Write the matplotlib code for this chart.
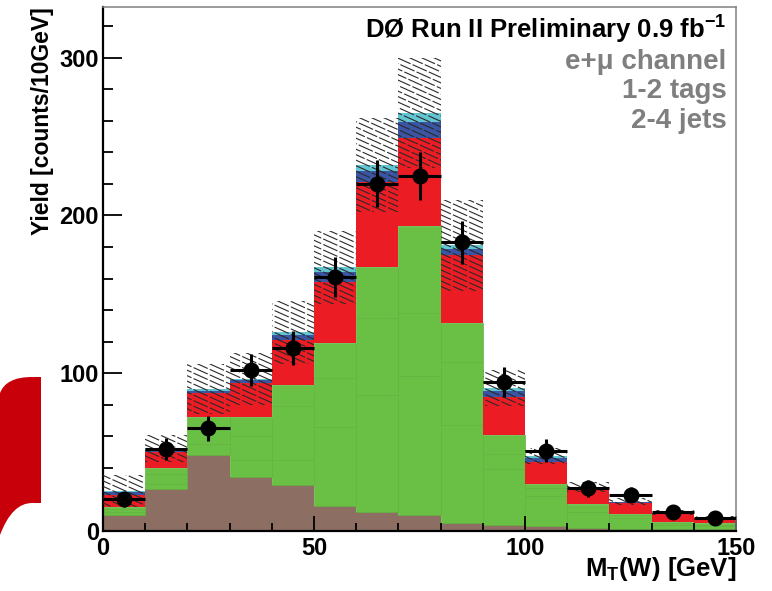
import numpy as np
import matplotlib
matplotlib.use('Agg')
import matplotlib.pyplot as plt
from matplotlib.path import Path
from matplotlib.patches import PathPatch, Rectangle
from matplotlib.collections import LineCollection
from matplotlib.transforms import IdentityTransform
from matplotlib.ticker import MultipleLocator

plt.rcParams['font.family'] = ['Liberation Sans', 'DejaVu Sans']
plt.rcParams['font.weight'] = 'bold'
plt.rcParams['mathtext.fontset'] = 'custom'
plt.rcParams['mathtext.rm'] = 'Liberation Sans:bold'
plt.rcParams['mathtext.bf'] = 'Liberation Sans:bold'
plt.rcParams['mathtext.it'] = 'Liberation Sans:bold'

# bin edges of M_T(W), 10 GeV bins
edges = np.arange(0, 151, 10)
centers = edges[:-1] + 5

# stacked backgrounds (yield per bin, bottom to top)
multijet = [10, 26.6, 48, 34, 29, 16, 12, 10, 5, 4, 3, 2, 1.5, 1, 1]
w_light = [2, 3.4, 7, 11, 16, 50, 74, 88, 62, 35, 19, 10, 6.5, 3, 2]
w_cc = [2, 6, 10, 15, 34, 31, 49, 40, 40, 10, 5, 3, 2, 1, 1]
w_bb = [1, 4, 7.5, 12, 13.5, 22, 32, 55, 25, 12, 3, 2, 1, 0.7, 1]
ttbar = [8, 10, 15, 22, 28.5, 39, 54, 56, 43, 24, 14, 9.6, 6.8, 5.3, 3]
other1 = [1.5, 1.5, 1.5, 1.5, 3, 6, 7, 10, 4, 3.5, 2, 0.9, 0.5, 0.3, 0.3]
other2 = [1, 1, 1, 1, 2, 3, 4, 6, 2, 2, 1.5, 0.5, 0.4, 0.3, 0.2]

# systematic uncertainty on total prediction
syst = [10, 8.5, 16, 16.5, 20, 23, 30, 35, 29, 11.5, 5, 3, 2.5, 1.5, 1]

# data
data = [20, 52, 65, 102, 116, 161, 220, 225, 183, 94.5, 51, 27, 23, 12, 8]
data_err = [4.5, 7.2, 8, 10, 10.8, 12.7, 14.8, 15, 13.5, 9.7, 7.1, 5.2, 4.8, 3.5, 2.8]

fig = plt.figure(figsize=(7.72, 5.91), dpi=100)
ax = fig.add_axes([0.1334, 0.1015, 0.82, 0.8865])

# red logo fragment on the left edge (pixel coords -> figure fraction)
W, H = 772.0, 591.0
pts = [(-5, 395), (0, 393), (6, 377), (32, 377), (41, 377), (41, 503),
       (32, 503), (12, 503), (0, 535), (-5, 540), (-5, 395)]
codes = [Path.MOVETO, Path.LINETO, Path.CURVE3, Path.CURVE3, Path.LINETO, Path.LINETO,
         Path.LINETO, Path.CURVE3, Path.CURVE3, Path.LINETO, Path.CLOSEPOLY]
logo = Path([(x / W, 1 - y / H) for x, y in pts], codes)
fig.patches.append(PathPatch(logo, transform=fig.transFigure, facecolor='#c8000a',
                             edgecolor='none', zorder=0))

comps = [
    (multijet, '#8c6f62', 'none'),
    (w_light, '#6abf45', '#62b33e'),
    (w_cc, '#6abf45', '#62b33e'),
    (w_bb, '#6abf45', '#62b33e'),
    (ttbar, '#ec1c24', 'none'),
    (other1, '#3a55a4', 'none'),
    (other2, '#62c6d2', 'none'),
]
bottom = np.zeros(len(centers))
for vals, fc, ec in comps:
    vals = np.array(vals)
    if ec == 'none':
        ax.stairs(bottom + vals, edges, baseline=bottom, fill=True, color=fc, lw=0)
    else:
        ax.bar(centers, vals, width=10, bottom=bottom, color=fc, edgecolor=ec, linewidth=0.5)
    bottom = bottom + vals
total = bottom

# shallow hatching for the systematic band, clipped to each bin's band
syst = np.array(syst)
segs = []
for c in np.arange(-400, 1100, 5.5):
    segs.append([(-10, c), (800, c - 0.45 * 810)])
for i, s in enumerate(syst):
    rect = Rectangle((edges[i], total[i] - s), 10, 2 * s,
                     facecolor='none', edgecolor='none', linewidth=0)
    ax.add_patch(rect)
    lc = LineCollection(segs, colors='#2a2a2a', linewidths=0.8, linestyles=(0, (14, 2)),
                        transform=IdentityTransform(), zorder=3)
    ax.add_collection(lc, autolim=False)
    lc.set_clip_path(rect)

ax.errorbar(centers, data, yerr=data_err, xerr=5, fmt='o', color='black',
            ms=10.5, elinewidth=2.2, capsize=0, zorder=5)

ax.set_xlim(0, 150)
ax.set_ylim(0, 332)
ax.xaxis.set_major_locator(MultipleLocator(50))
ax.xaxis.set_minor_locator(MultipleLocator(10))
ax.yaxis.set_major_locator(MultipleLocator(100))
ax.yaxis.set_minor_locator(MultipleLocator(20))
ax.tick_params(axis='both', which='both', direction='in', width=1.3, labelsize=17)
ax.tick_params(axis='y', which='major', length=14)
ax.tick_params(axis='y', which='minor', length=7)
ax.tick_params(axis='x', which='major', length=11)
ax.tick_params(axis='x', which='minor', length=6)
ax.tick_params(axis='x', pad=4)
ax.tick_params(axis='y', pad=3)
for lab in ax.get_xticklabels() + ax.get_yticklabels():
    lab.set_fontweight('bold')

for s in ['left', 'bottom']:
    ax.spines[s].set_linewidth(1.6)
    ax.spines[s].set_color('black')
for s in ['top', 'right']:
    ax.spines[s].set_linewidth(1.1)
    ax.spines[s].set_color('#808080')

ax.set_ylabel('Yield [counts/10GeV]', fontsize=16.5, fontweight='bold', loc='top', labelpad=4)
ax.set_xlabel(r'M$_{\mathbf{T}}$(W) [GeV]', fontsize=18.5, fontweight='bold', loc='right', labelpad=-3)

ax.text(0.985, 0.957, r'DØ Run II Preliminary 0.9 fb$^{-1}$', transform=ax.transAxes,
        ha='right', va='center', fontsize=18.5, fontweight='bold', color='black')
for i, t in enumerate(['e+μ channel', '1-2 tags', '2-4 jets']):
    ax.text(0.985, 0.896 - 0.057 * i, t, transform=ax.transAxes, ha='right', va='center',
            fontsize=20, fontweight='bold', color='#7f7f7f')

fig.savefig('out.png', dpi=100)
